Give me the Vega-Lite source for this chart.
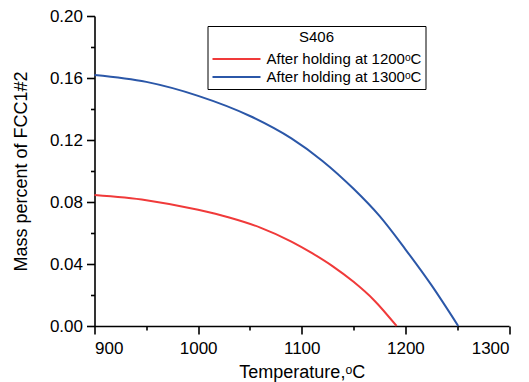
{
  "$schema": "https://vega.github.io/schema/vega-lite/v6.json",
  "autosize": {"type": "none"},
  "padding": {"left": 94.5, "top": 16, "right": 20, "bottom": 56},
  "width": 414.5,
  "height": 310,
  "background": "white",
  "config": {
    "view": {"stroke": null},
    "font": "Liberation Sans",
    "axis": {
      "grid": false,
      "domainColor": "black",
      "domainWidth": 1.6,
      "tickColor": "black",
      "tickWidth": 1.6,
      "labelColor": "black",
      "titleColor": "black",
      "labelFont": "Liberation Sans",
      "titleFont": "Liberation Sans",
      "labelFontSize": 17,
      "titleFontSize": 18,
      "titleFontWeight": "normal"
    }
  },
  "data": {
    "values": [
      {"series": "After holding at 1200ᵒC", "T": 900, "v": 0.0845},
      {"series": "After holding at 1200ᵒC", "T": 950, "v": 0.0812},
      {"series": "After holding at 1200ᵒC", "T": 1000, "v": 0.075},
      {"series": "After holding at 1200ᵒC", "T": 1030, "v": 0.07},
      {"series": "After holding at 1200ᵒC", "T": 1060, "v": 0.0635},
      {"series": "After holding at 1200ᵒC", "T": 1090, "v": 0.0545},
      {"series": "After holding at 1200ᵒC", "T": 1110, "v": 0.047},
      {"series": "After holding at 1200ᵒC", "T": 1130, "v": 0.0385},
      {"series": "After holding at 1200ᵒC", "T": 1150, "v": 0.0285},
      {"series": "After holding at 1200ᵒC", "T": 1170, "v": 0.0165},
      {"series": "After holding at 1200ᵒC", "T": 1191.5, "v": 0.0},
      {"series": "After holding at 1300ᵒC", "T": 900, "v": 0.162},
      {"series": "After holding at 1300ᵒC", "T": 950, "v": 0.1575},
      {"series": "After holding at 1300ᵒC", "T": 1000, "v": 0.1485},
      {"series": "After holding at 1300ᵒC", "T": 1050, "v": 0.1355},
      {"series": "After holding at 1300ᵒC", "T": 1090, "v": 0.121},
      {"series": "After holding at 1300ᵒC", "T": 1120, "v": 0.1065},
      {"series": "After holding at 1300ᵒC", "T": 1150, "v": 0.0885},
      {"series": "After holding at 1300ᵒC", "T": 1175, "v": 0.071},
      {"series": "After holding at 1300ᵒC", "T": 1200, "v": 0.0495},
      {"series": "After holding at 1300ᵒC", "T": 1225, "v": 0.0265},
      {"series": "After holding at 1300ᵒC", "T": 1251, "v": 0.0}
    ]
  },
  "layer": [
    {
      "mark": {"type": "line", "strokeWidth": 2, "interpolate": "monotone"},
      "encoding": {
        "x": {
          "field": "T", "type": "quantitative",
          "scale": {"domain": [900, 1300], "nice": false, "zero": false},
          "axis": {
            "orient": "bottom",
            "values": [900, 1000, 1100, 1200, 1300],
            "format": "d",
            "tickSize": 8,
            "labelPadding": 6,
            "title": "Temperature,ᵒC",
            "titlePadding": 7
          }
        },
        "y": {
          "field": "v", "type": "quantitative",
          "scale": {"domain": [0, 0.2], "nice": false},
          "axis": {
            "orient": "left",
            "values": [0, 0.04, 0.08, 0.12, 0.16, 0.2],
            "format": ".2f",
            "tickSize": 8,
            "labelPadding": 4,
            "title": "Mass percent of FCC1#2",
            "titlePadding": 19
          }
        },
        "color": {
          "field": "series", "type": "nominal",
          "scale": {
            "domain": ["After holding at 1200ᵒC", "After holding at 1300ᵒC"],
            "range": ["#F03A3A", "#2B57A8"]
          },
          "legend": {
            "orient": "none",
            "legendX": 113,
            "legendY": 10,
            "title": "S406",
            "titleFontSize": 15,
            "titleFontWeight": "normal",
            "titleColor": "black",
            "titleAnchor": "middle",
            "titleAlign": "center",
            "titlePadding": 5,
            "labelFontSize": 15,
            "labelColor": "black",
            "symbolType": "M-3,0H3",
            "symbolSize": 256,
            "symbolStrokeWidth": 2,
            "symbolOffset": 16,
            "labelOffset": 21,
            "rowPadding": 1,
            "strokeColor": "black",
            "padding": 4,
            "fillColor": "white"
          }
        }
      }
    },
    {
      "mark": {"type": "line", "opacity": 0},
      "encoding": {
        "x": {
          "field": "T", "type": "quantitative",
          "scale": {"domain": [900, 1300], "nice": false, "zero": false},
          "axis": {
            "orient": "bottom",
            "values": [950, 1050, 1150, 1250],
            "tickSize": 4,
            "labels": false,
            "domain": false,
            "title": null
          }
        },
        "y": {
          "field": "v", "type": "quantitative",
          "scale": {"domain": [0, 0.2], "nice": false},
          "axis": {
            "orient": "left",
            "values": [0.02, 0.06, 0.1, 0.14, 0.18],
            "tickSize": 4,
            "labels": false,
            "domain": false,
            "title": null
          }
        },
        "detail": {"field": "series", "type": "nominal"}
      }
    }
  ],
  "resolve": {"axis": {"x": "independent", "y": "independent"}}
}
